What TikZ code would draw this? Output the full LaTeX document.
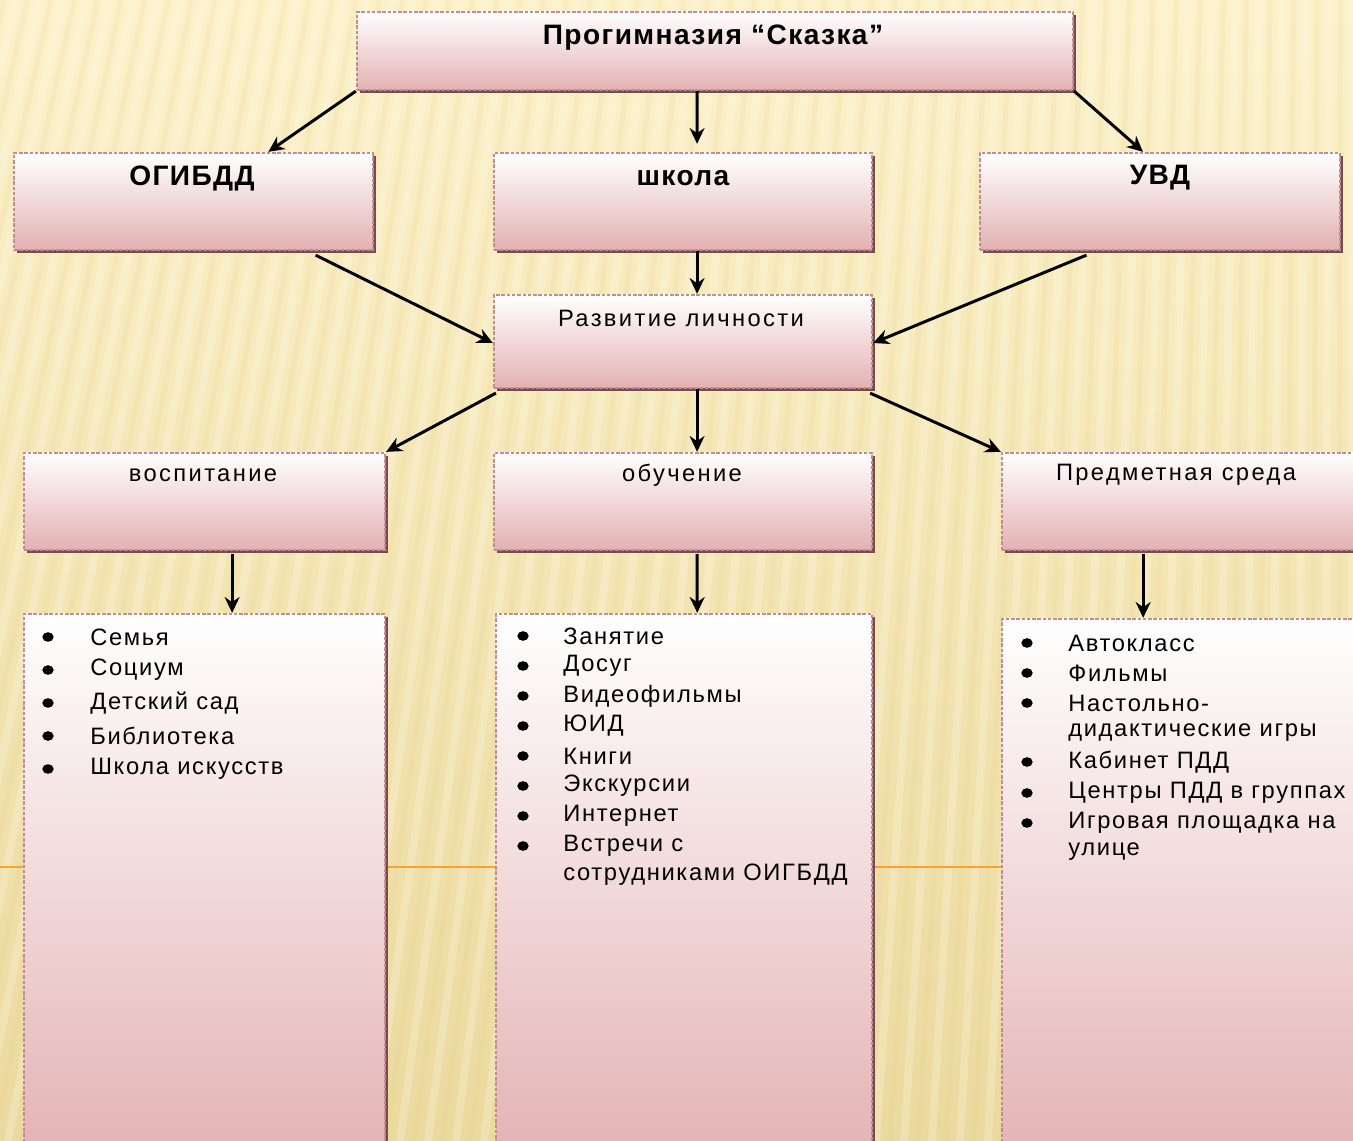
\documentclass[tikz,border=0pt]{standalone}
\usepackage{fontspec}
\setmainfont{Liberation Sans}
\newfontfamily\spaced[LetterSpace=7]{Liberation Sans}
\newfontfamily\spacedh[LetterSpace=10]{Liberation Sans}
\newfontfamily\spacedb[LetterSpace=5]{Liberation Sans}
\usetikzlibrary{fit,calc,arrows.meta}
\definecolor{bgtop}{HTML}{FCF1C9}
\definecolor{bgbot}{HTML}{EBDA9E}
\definecolor{stripedark}{HTML}{DCC27A}
\definecolor{boxpink}{HTML}{E3B1B2}
\definecolor{boxedge}{HTML}{C28C93}
\definecolor{shadowc}{HTML}{5E2C33}
\definecolor{orangeln}{HTML}{F2A33A}
\tikzset{
  chartbox/.style={rectangle, inner sep=0pt, top color=white, bottom color=boxpink,
    draw=boxedge, line width=1.3pt, dash pattern=on 2pt off 1pt},
  shadowbox/.style={fill=shadowc!85},
  conn/.style={-{Stealth[length=9pt,width=8.5pt]}, line width=1.7pt, black},
  headb/.style={font=\fontsize{16}{19}\selectfont\spacedb\bfseries, inner sep=0pt},
  headr/.style={font=\fontsize{13.5}{16}\selectfont\spacedh, inner sep=0pt},
  item/.style={font=\fontsize{13.5}{16}\selectfont\spaced, inner sep=0pt, anchor=west},
  bullet/.style={ellipse, fill=black, inner sep=0pt, minimum width=6.5pt, minimum height=5.5pt},
}
\usetikzlibrary{shapes.geometric}
\newcommand\mkbox[5]{%
  \fill[shadowbox] (#2+3,#3+3) rectangle (#4+3,#5+3);
  \node[chartbox, fit={(#2,#3)(#4,#5)}] (#1) {};
}
\begin{document}
\begin{tikzpicture}[x=0.02cm,y=-0.02cm]
\useasboundingbox (0,0) rectangle (1353,1141);
% background
\fill[top color=bgtop, bottom color=bgbot] (0,0) rectangle (1353,1141);
\foreach \s in {-300,-272,...,1400}{
  \draw[white, opacity=0.2, line width=4.5pt] (\s,1141) -- ({\s+220*(1-\s/1353)},0);
  \draw[stripedark, opacity=0.1, line width=3pt] (\s+14,1141) -- ({\s+14+220*(1-(\s+14)/1353)},0);
}
\draw[orangeln, line width=1.2pt] (0,867) -- (1353,867);

% boxes
\mkbox{top}{357}{12}{1073}{90}
\mkbox{ogibdd}{14}{153}{373}{250}
\mkbox{school}{494}{153}{872}{250}
\mkbox{uvd}{980}{153}{1340}{250}
\mkbox{razv}{494}{295}{872}{388}
\mkbox{vosp}{24}{453}{385}{550}
\mkbox{obuch}{494}{453}{872}{550}
\mkbox{pred}{1002}{453}{1360}{550}
\mkbox{lvosp}{24}{614}{385}{1170}
\mkbox{lobuch}{496}{614}{872}{1170}
\mkbox{lpred}{1002}{619}{1360}{1170}

% headings
\node[headb] (ttop) at (713,38) {Прогимназия “Сказка”};
\node[headb] (togibdd) at (192,178) {ОГИБДД};
\node[headb] (tschool) at (683,178) {школа};
\node[headb] (tuvd) at (1160,178) {УВД};
\node[headr] (trazv) at (681,318) {Развитие личности};
\node[headr] (tvosp) at (203,475) {воспитание};
\node[headr] (tobuch) at (682,475) {обучение};
\node[headr] (tpred) at (1176,475) {Предметная среда};

% left list
\foreach \t [count=\i] in {Семья,Социум,Детский сад,Библиотека,Школа искусств}{
  \node[bullet] (bl\i) at (48,{637+33*(\i-1)}) {};
  \node[item] (il\i) at (90,{637+33*(\i-1)}) {\t};
}
% middle list
\foreach \t [count=\i] in {Занятие,Досуг,Видеофильмы,ЮИД,Книги,Экскурсии,Интернет,Встречи с}{
  \node[bullet] (bm\i) at (523,{636+30*(\i-1)}) {};
  \node[item] (im\i) at (563,{636+30*(\i-1)}) {\t};
}
\node[item] (im9) at (563,875) {сотрудниками ОИГБДД};
% right list
\node[bullet] (br1) at (1027,643) {};
\node[item] (ir1) at (1068,643) {Автокласс};
\node[bullet] (br2) at (1027,673) {};
\node[item] (ir2) at (1068,673) {Фильмы};
\node[bullet] (br3) at (1027,703) {};
\node[item] (ir3) at (1068,703) {Настольно-};
\node[item] (ir4) at (1068,733) {дидактические игры};
\node[bullet] (br5) at (1027,762) {};
\node[item] (ir5) at (1068,762) {Кабинет ПДД};
\node[bullet] (br6) at (1027,793) {};
\node[item] (ir6) at (1068,793) {Центры ПДД в группах};
\node[bullet] (br7) at (1027,823) {};
\node[item] (ir7) at (1068,823) {Игровая площадка на};
\node[item] (ir8) at (1068,852) {улице};

% connectors
\draw[conn] (top.south west) -- ($(ogibdd.north west)!0.707!(ogibdd.north east)$);
\draw[conn] ($(top.south west)!0.475!(top.south east)$) -- ($(school.north west)!0.537!(school.north east)+(0,-8)$);
\draw[conn] (top.south east) -- ($(uvd.north west)!0.453!(uvd.north east)$);
\draw[conn] ($(ogibdd.south west)!0.838!(ogibdd.south east)+(0,4)$) -- ($(razv.north west)!0.516!(razv.south west)$);
\draw[conn] ($(school.south west)!0.537!(school.south east)$) -- ($(razv.north west)!0.537!(razv.north east)$);
\draw[conn] ($(uvd.south west)!0.297!(uvd.south east)+(0,4)$) -- ($(razv.north east)!0.516!(razv.south east)$);
\draw[conn] ($(razv.south west)+(3,4)$) -- (vosp.north east);
\draw[conn] ($(razv.south west)!0.537!(razv.south east)$) -- ($(obuch.north west)!0.537!(obuch.north east)$);
\draw[conn] ($(razv.south east)+(-3,4)$) -- (pred.north west);
\draw[conn] ($(vosp.south west)!0.576!(vosp.south east)+(0,3)$) -- ($(lvosp.north west)!0.576!(lvosp.north east)$);
\draw[conn] ($(obuch.south west)!0.537!(obuch.south east)+(0,3)$) -- ($(lobuch.north west)!0.535!(lobuch.north east)$);
\draw[conn] ($(pred.south west)!0.395!(pred.south east)+(0,3)$) -- ($(lpred.north west)!0.395!(lpred.north east)$);
\end{tikzpicture}
\end{document}
